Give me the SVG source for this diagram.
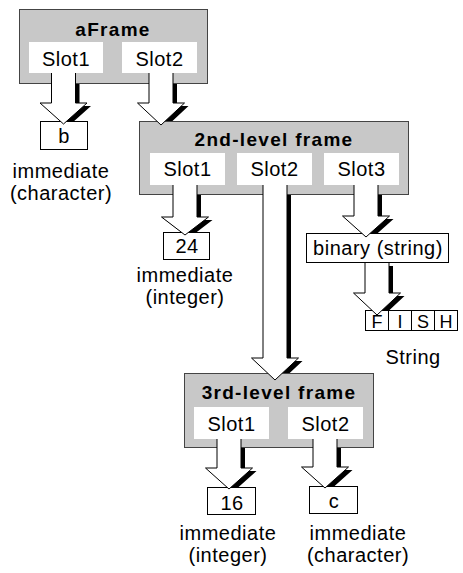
<svg xmlns="http://www.w3.org/2000/svg" xmlns:xlink="http://www.w3.org/1999/xlink" width="463" height="573" viewBox="0 0 463 573">
  <style>
    .frame { fill: #c8c8c8; stroke: #444; stroke-width: 1; }
    .slot { fill: #fff; stroke: none; }
    .box { fill: #fff; stroke: #000; stroke-width: 1; }
    .title { font-family: "Liberation Sans", Arial, sans-serif; font-weight: bold; font-size: 19px; letter-spacing: 1.3px; text-anchor: middle; fill: #000; }
    .txt { font-family: "Liberation Sans", Arial, sans-serif; font-size: 20px; letter-spacing: 0.5px; text-anchor: middle; fill: #000; }
    .cell { font-family: "Liberation Sans", Arial, sans-serif; font-size: 18px; text-anchor: middle; fill: #000; }
    .shadow { fill: #000; stroke: none; }
    .body { fill: #fff; stroke: #000; stroke-width: 1; }
  </style>
  <defs>
    <!-- block arrows: open at the top where they leave their slot -->
    <path id="a1" d="M51.5,73 V103 H40 L63.5,124 L87,103 H75.5 V73"/>
    <path id="a2" d="M149,73 V103 H137.5 L161,125 L184.5,103 H173 V73"/>
    <path id="a3" d="M173,185 V217 H161.5 L185,235 L208.5,217 H197 V185"/>
    <path id="a4" d="M263,185 V358 H251.5 L275,380 L298.5,358 H287 V185"/>
    <path id="a5" d="M354,185 V216 H342.5 L366,237 L389.5,216 H378 V185"/>
    <path id="a6" d="M365,263 V293 H353.5 L377,315 L400.5,293 H389 V263"/>
    <path id="a7" d="M217,439 V468 H205.5 L229,489 L252.5,468 H241 V439"/>
    <path id="a8" d="M313,439 V467 H301.5 L325,488 L348.5,467 H337 V439"/>
  </defs>

  <!-- drop shadows of the arrows, drawn beneath the nodes -->
  <g id="connector-shadows" transform="translate(4,3)">
    <use xlink:href="#a1" class="shadow"/>
    <use xlink:href="#a2" class="shadow"/>
    <use xlink:href="#a3" class="shadow"/>
    <use xlink:href="#a4" class="shadow"/>
    <use xlink:href="#a5" class="shadow"/>
    <use xlink:href="#a6" class="shadow"/>
    <use xlink:href="#a7" class="shadow"/>
    <use xlink:href="#a8" class="shadow"/>
  </g>

  <g id="aFrame">
    <rect class="frame" x="19.5" y="9.5" width="188" height="74"/>
    <text class="title" x="113" y="36">aFrame</text>
    <rect class="slot" x="29" y="42" width="74" height="31"/>
    <text class="txt" x="66" y="66">Slot1</text>
    <rect class="slot" x="122" y="42" width="75" height="31"/>
    <text class="txt" x="159.5" y="66">Slot2</text>
  </g>

  <g id="frame2">
    <rect class="frame" x="139.5" y="121.5" width="269" height="73"/>
    <text class="title" x="274" y="146">2nd-level frame</text>
    <rect class="slot" x="150" y="153" width="75" height="32"/>
    <text class="txt" x="187.5" y="176">Slot1</text>
    <rect class="slot" x="237" y="153" width="75" height="32"/>
    <text class="txt" x="274.5" y="176">Slot2</text>
    <rect class="slot" x="324" y="153" width="75" height="32"/>
    <text class="txt" x="361.5" y="176">Slot3</text>
  </g>

  <g id="frame3">
    <rect class="frame" x="184.5" y="373.5" width="189" height="74"/>
    <text class="title" x="279" y="399">3rd-level frame</text>
    <rect class="slot" x="194" y="407" width="75" height="32"/>
    <text class="txt" x="231.5" y="431">Slot1</text>
    <rect class="slot" x="288" y="407" width="75" height="32"/>
    <text class="txt" x="325.5" y="431">Slot2</text>
  </g>

  <g id="immediate-b">
    <rect class="box" x="40.5" y="121.5" width="47" height="28"/>
    <text class="txt" x="64" y="143">b</text>
    <text class="txt" x="61" y="178">immediate</text>
    <text class="txt" x="61" y="200">(character)</text>
  </g>

  <g id="immediate-24">
    <rect class="box" x="163.5" y="232.5" width="46" height="27"/>
    <text class="txt" x="187" y="253">24</text>
    <text class="txt" x="185" y="282">immediate</text>
    <text class="txt" x="185" y="304">(integer)</text>
  </g>

  <g id="binary-string">
    <rect class="box" x="306.5" y="233.5" width="142" height="29"/>
    <text class="txt" x="378" y="255">binary (string)</text>
  </g>

  <g id="string-data">
    <rect class="box" x="365.5" y="310.5" width="23" height="20"/>
    <rect class="box" x="388.5" y="310.5" width="23" height="20"/>
    <rect class="box" x="411.5" y="310.5" width="23" height="20"/>
    <rect class="box" x="434.5" y="310.5" width="23" height="20"/>
    <text class="cell" x="377" y="328">F</text>
    <text class="cell" x="400" y="328">I</text>
    <text class="cell" x="423" y="328">S</text>
    <text class="cell" x="446" y="328">H</text>
    <text class="txt" x="413" y="364">String</text>
  </g>

  <g id="immediate-16">
    <rect class="box" x="207.5" y="487.5" width="48" height="27"/>
    <text class="txt" x="232" y="510">16</text>
    <text class="txt" x="228" y="540">immediate</text>
    <text class="txt" x="228" y="562">(integer)</text>
  </g>

  <g id="immediate-c">
    <rect class="box" x="309.5" y="486.5" width="48" height="27"/>
    <text class="txt" x="334" y="508">c</text>
    <text class="txt" x="358" y="540">immediate</text>
    <text class="txt" x="358" y="562">(character)</text>
  </g>

  <!-- arrow bodies, drawn over the frames and boxes they point into -->
  <g id="connectors">
    <use xlink:href="#a1" class="body"/>
    <use xlink:href="#a2" class="body"/>
    <use xlink:href="#a3" class="body"/>
    <use xlink:href="#a4" class="body"/>
    <use xlink:href="#a5" class="body"/>
    <use xlink:href="#a6" class="body"/>
    <use xlink:href="#a7" class="body"/>
    <use xlink:href="#a8" class="body"/>
  </g>
</svg>
